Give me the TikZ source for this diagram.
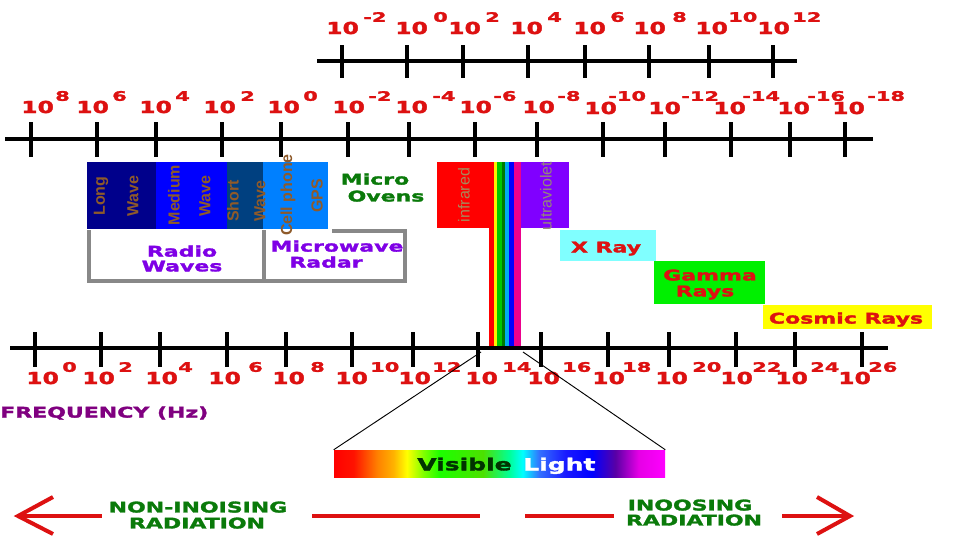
\documentclass[tikz,border=0pt]{standalone}
\usepackage{fontspec}
\newfontfamily\pxf{DejaVu Sans}[FakeStretch=1.5,BoldFeatures={FakeBold=2}]
\newfontfamily\pxs{DejaVu Sans}[FakeStretch=1.6,BoldFeatures={FakeBold=2}]
\newfontfamily\pxb{DejaVu Sans}[FakeStretch=1.42,BoldFeatures={FakeBold=2}]
\newfontfamily\nrw{Liberation Sans}
\definecolor{labred}{HTML}{DD1111}
\definecolor{navyband}{HTML}{00008B}
\definecolor{medband}{HTML}{0000FF}
\definecolor{shortband}{HTML}{004080}
\definecolor{cellband}{HTML}{0080FF}
\definecolor{uvband}{HTML}{8000FF}
\definecolor{xband}{HTML}{80FFFF}
\definecolor{gband}{HTML}{00F000}
\definecolor{cband}{HTML}{FFFF00}
\definecolor{bandtxt}{HTML}{8E5A2A}
\definecolor{irtxt}{HTML}{A8885A}
\definecolor{uvtxt}{HTML}{958878}
\definecolor{greentxt}{HTML}{0A7A0A}
\definecolor{violettxt}{HTML}{7F00E6}
\definecolor{freqtxt}{HTML}{800080}
\definecolor{boxgray}{HTML}{888888}
\definecolor{dgreen}{HTML}{007A00}
\definecolor{lgreen}{HTML}{00C800}
\pgfdeclarehorizontalshading{vislight}{100bp}{color(0bp)=(red); color(25bp)=(red); color(28bp)=(red!85!orange); color(31.5bp)=(orange); color(34bp)=(orange!60!yellow); color(36bp)=(yellow); color(38.5bp)=(yellow!50!green); color(41bp)=(green!85!lime); color(47.5bp)=(green!80!black!60!lime); color(51.5bp)=(cyan!60!green); color(53.5bp)=(cyan); color(56bp)=(cyan!30!blue!80!white); color(60bp)=(blue!90!white); color(64bp)=(blue); color(67.5bp)=(violet!70!blue); color(71bp)=(magenta!80!violet); color(75bp)=(magenta); color(100bp)=(magenta)}
\newcommand\tenlab[6]{%
  \node[basel] (#1) at (#2,#3) {10};
  \node[supl] (#1s) at (#4,#5) {#6};}
\begin{document}
\begin{tikzpicture}[x=0.75pt,y=-0.75pt,
  basel/.style={font=\pxb\bfseries\fontsize{12.4}{13}\selectfont, text=labred, inner sep=0pt, anchor=west},
  supl/.style={font=\pxs\bfseries\fontsize{9.8}{10}\selectfont, text=labred, inner sep=0pt, anchor=west},
  axisline/.style={line width=2.3pt, black},
  tick/.style={line width=3pt, black},
  pxtxt/.style={font=\pxf\bfseries\fontsize{11}{11}\selectfont, inner sep=0pt, text depth=0pt},
  rottxt/.style={font=\nrw\bfseries\fontsize{12}{12}\selectfont, rotate=90, inner sep=0pt},
  graybox/.style={draw=boxgray, line width=3pt},
  redarrow/.style={draw=labred, line width=3pt},
  zoomline/.style={draw=black, line width=0.7pt}
]
\useasboundingbox (0,0) rectangle (960,540);
\fill[white] (0,0) rectangle (960,540);

% ---------- top axis (wavelength scale) ----------
\draw[axisline] (317,61) -- (797,61);
\foreach \x in {342,407,463,528,585,649,709,773}
  \draw[tick] (\x,45) -- (\x,78);
\tenlab{ta}{326}{28}{363}{17}{-2}
\tenlab{tb}{395}{28}{433}{17}{0}
\tenlab{tc}{448}{28}{485}{17}{2}
\tenlab{td}{510}{28}{547}{17}{4}
\tenlab{te}{573}{28}{610}{17}{6}
\tenlab{tf}{633}{28}{672}{17}{8}
\tenlab{tg}{695}{28}{728}{17}{10}
\tenlab{th}{757}{28}{792}{17}{12}

% ---------- second axis ----------
\draw[axisline] (5,139) -- (873,139);
\foreach \x in {31,97,156,222,281,348,409,475,537,603,665,731,790,845}
  \draw[tick] (\x,122) -- (\x,157);
\tenlab{sa}{21}{107}{55}{96}{8}
\tenlab{sb}{76}{107}{112}{96}{6}
\tenlab{sc}{139}{107}{175}{96}{4}
\tenlab{sd}{203}{107}{240}{96}{2}
\tenlab{se}{267}{107}{303}{96}{0}
\tenlab{sf}{332}{107}{368}{96}{-2}
\tenlab{sg}{395}{107}{432}{96}{-4}
\tenlab{sh}{459}{107}{493}{96}{-6}
\tenlab{si}{522}{107}{557}{96}{-8}
\tenlab{sj}{584}{108}{608}{96}{-10}
\tenlab{sk}{648}{108}{681}{96}{-12}
\tenlab{sl}{713}{108}{742}{96}{-14}
\tenlab{sm}{777}{108}{807}{96}{-16}
\tenlab{sn}{832}{108}{867}{96}{-18}

% ---------- bands ----------
\fill[navyband] (87,162) rectangle (156,229);
\fill[medband] (156,162) rectangle (227,229);
\fill[shortband] (227,162) rectangle (263,229);
\fill[cellband] (263,162) rectangle (328,229);
\node[rottxt, text=bandtxt] (long1) at (101,196) {Long};
\node[rottxt, text=bandtxt] (long2) at (133,196) {Wave};
\node[rottxt, text=bandtxt] (med1) at (174,195) {Medium};
\node[rottxt, text=bandtxt] (med2) at (205,196) {Wave};
\node[rottxt, text=bandtxt] (sh1) at (233,201) {Short};
\node[rottxt, text=bandtxt] (sh2) at (260,201) {Wave};
\node[rottxt, text=bandtxt] (cell1) at (288,195) {Cell phone};
\node[rottxt, text=bandtxt] (cell2) at (317,196) {GPS};

% radio / microwave boxes
\draw[graybox] (89,230) -- (89,281) -- (264,281) -- (264,230);
\draw[graybox] (264,281) -- (405,281) -- (405,231) -- (332,231);
\node[pxtxt, text=violettxt] (radio1) at (182,251) {Radio};
\node[pxtxt, text=violettxt] (radio2) at (182,266) {Waves};
\node[pxtxt, text=violettxt] (mw1) at (337,246) {Microwave};
\node[pxtxt, text=violettxt] (mw2) at (326,262) {Radar};
\node[pxtxt, text=greentxt] (ov1) at (375,179) {Micro};
\node[pxtxt, text=greentxt] (ov2) at (386,196) {Ovens};

% infrared, visible strip, ultraviolet
\fill[red] (437,162) rectangle (494,228);
\fill[red] (489,162) rectangle (494.2,346);
\fill[yellow] (494,162) rectangle (497.5,346);
\fill[lgreen] (497.3,162) rectangle (501.9,346);
\fill[dgreen] (501.7,162) rectangle (505.2,346);
\fill[cyan] (505,162) rectangle (509.5,346);
\fill[blue] (509.3,162) rectangle (514.2,346);
\fill[magenta] (514,162) rectangle (521,346);
\fill[uvband] (521,162) rectangle (569,228);
\node[rottxt, font=\nrw\fontsize{12}{12}\selectfont, text=irtxt] (ir) at (464,195) {infrared};
\node[rottxt, font=\nrw\fontsize{12}{12}\selectfont, text=uvtxt] (uv) at (546,196) {ultraviolet};

% x ray, gamma, cosmic
\fill[xband] (560,230) rectangle (656,261);
\node[pxtxt, text=labred] (xray) at (606,247) {X Ray};
\fill[gband] (654,261) rectangle (765,304);
\node[pxtxt, text=labred] (gam1) at (710,275) {Gamma};
\node[pxtxt, text=labred] (gam2) at (705,291) {Rays};
\fill[cband] (763,305) rectangle (932,329);
\node[pxtxt, text=labred] (cosmic) at (846,318) {Cosmic Rays};

% ---------- bottom axis (frequency) ----------
\draw[axisline] (10,348) -- (888,348);
\foreach \x in {35,101,160,227,286,352,413,478,541,608,669,736,795,862}
  \draw[tick] (\x,332) -- (\x,367);
\tenlab{fa}{26}{378}{62}{367}{0}
\tenlab{fb}{82}{378}{118}{367}{2}
\tenlab{fc}{145}{378}{178}{367}{4}
\tenlab{fd}{208}{378}{248}{367}{6}
\tenlab{fe}{272}{378}{310}{367}{8}
\tenlab{ff}{335}{378}{370}{367}{10}
\tenlab{fg}{398}{378}{432}{367}{12}
\tenlab{fh}{465}{378}{502}{367}{14}
\tenlab{fi}{527}{378}{562}{367}{16}
\tenlab{fj}{592}{378}{622}{367}{18}
\tenlab{fk}{655}{378}{692}{367}{20}
\tenlab{fl}{720}{378}{752}{367}{22}
\tenlab{fm}{775}{378}{810}{367}{24}
\tenlab{fn}{838}{378}{868}{367}{26}
\node[pxtxt, text=freqtxt, anchor=west] (freq) at (0,412) {FREQUENCY (Hz)};

% ---------- visible light zoom ----------
\coordinate (zl) at (481,352);
\coordinate (zr) at (523,352);
\shade[shading=vislight] (334,450) rectangle (665,477);
\node[inner sep=0pt, minimum width=331*0.75pt, minimum height=27*0.75pt] (vis) at (499.5,463.5) {};
\draw[zoomline] (vis.north west) -- (zl);
\draw[zoomline] (zr) -- (vis.north east);
\node[pxtxt, font=\pxf\bfseries\fontsize{12.5}{12}\selectfont, text=black!80!green, anchor=west] (vis1) at (417,464) {Visible};
\node[pxtxt, font=\pxf\bfseries\fontsize{12.5}{12}\selectfont, text=white, anchor=west] (vis2) at (523,464) {Light};

% ---------- radiation arrows ----------
\coordinate (la) at (18,516);
\coordinate (lb) at (102,516);
\draw[redarrow] (la) -- (lb);
\draw[redarrow, line join=miter] (53,497) -- (la) -- (53,534);
\coordinate (ma) at (312,516);
\coordinate (mb) at (480,516);
\draw[redarrow] (ma) -- (mb);
\coordinate (ra) at (525,516);
\coordinate (rb) at (614,516);
\draw[redarrow] (ra) -- (rb);
\coordinate (rc) at (782,516);
\coordinate (rd) at (850,516);
\draw[redarrow] (rc) -- (rd);
\draw[redarrow, line join=miter] (817,497) -- (rd) -- (817,534);
\node[pxtxt, text=greentxt] (non1) at (198,507) {NON-INOISING};
\node[pxtxt, text=greentxt] (non2) at (197,523) {RADIATION};
\node[pxtxt, text=greentxt] (ion1) at (690,505) {INOOSING};
\node[pxtxt, text=greentxt] (ion2) at (694,520) {RADIATION};
\end{tikzpicture}
\end{document}
